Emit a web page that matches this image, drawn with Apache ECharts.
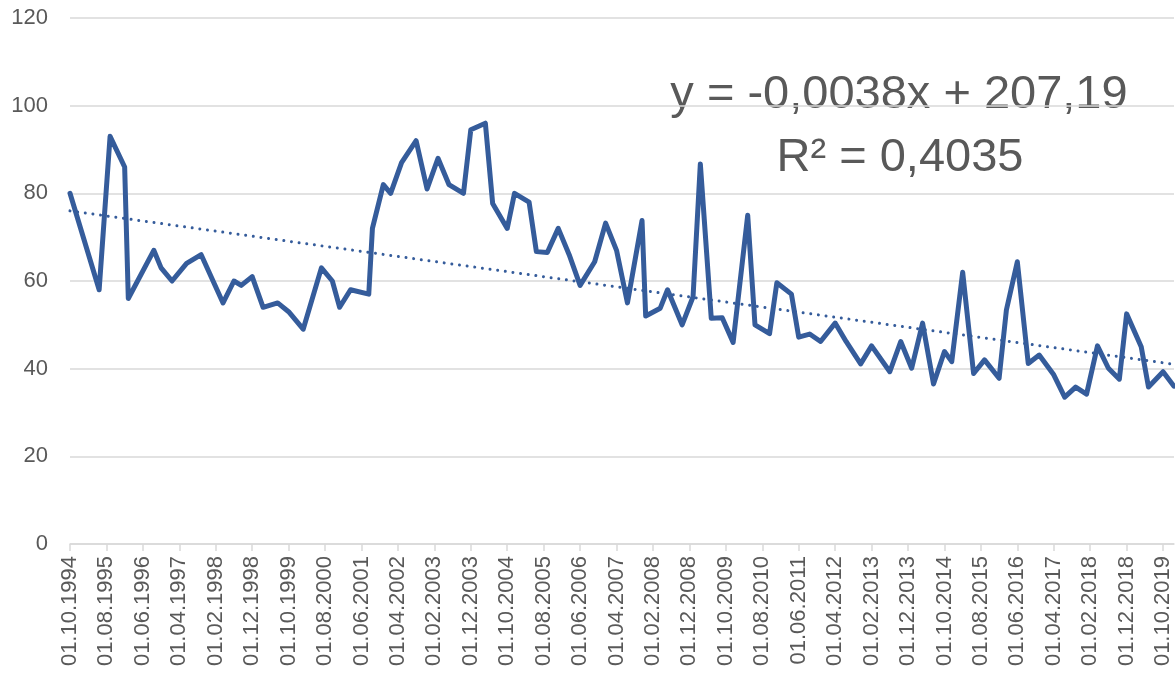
<!DOCTYPE html>
<html>
<head>
<meta charset="utf-8">
<script src="https://cdn.jsdelivr.net/npm/echarts@6/dist/echarts.min.js"></script>
<style>
html,body{margin:0;padding:0;background:#fff;}
#chart{width:1175px;height:673px;}
</style>
</head>
<body>
<div id="chart"></div>
<script>
// Months since 01.10.1994 for each observation
const monthIndex = [0,8,11,15,16,23,25,28,32,36,42,45,47,50,53,57,60,64,69,72,74,77,82,83,86,88,91,95,98,101,104,108,110,114,116,120,122,126,128,131,134,137,140,144,147,150,153,157,158,162,164,168,171,173,176,179,182,186,188,192,194,198,200,203,206,210,213,217,220,225,228,231,234,237,240,242,245,248,251,255,257,260,263,266,270,273,276,279,282,285,288,290,294,296,300,303];
const values = [80,58,93,86,56,67,63,60,64,66,55,60,59,61,54,55,53,49,63,60,54,58,57,72,82,80,87,92,81,88,82,80,94.5,96,77.7,72,80,78,66.7,66.5,72,66,59,64.4,73.2,67,55,73.8,52,53.8,58,50,56.4,86.7,51.5,51.6,46,75,50,48,59.6,57,47.2,47.9,46.2,50.4,46.2,41.1,45.2,39.3,46.2,40.1,50.4,36.5,43.9,41.6,62,38.9,42,37.8,53.4,64.4,41.2,43.1,38.6,33.5,35.8,34.2,45.2,40.1,37.6,52.5,45,35.8,39.3,36];
// Linear trend endpoints
const trendMonths = [0,303];
const trendValues = [76,41];
// X tick positions (months) and labels
const tickMonths = [0,10,20,30,40,50,60,70,80,90,100,110,120,130,140,150,160,170,180,190,200,210,220,230,240,250,260,270,280,290,300];
const yTicks = [0,20,40,60,80,100,120];
const equationLines = ['y = -0,0038x + 207,19','R² = 0,4035'];

function monthLabel(m){
  const total = 1994*12 + 9 + Math.round(m);
  const y = Math.floor(total/12);
  const mo = total%12 + 1;
  return '01.' + (mo<10?'0':'') + mo + '.' + y;
}

const chart = echarts.init(document.getElementById('chart'));
const font = 'Liberation Sans, Arial, sans-serif';
chart.setOption({
  animation:false,
  backgroundColor:'#ffffff',
  grid:{left:70,top:18,right:1,bottom:129,containLabel:false},
  xAxis:{
    type:'value', min:0, max:303,
    axisLine:{show:true,lineStyle:{color:'#D9D9D9',width:1.5}},
    axisTick:{show:true,length:7,lineStyle:{color:'#D9D9D9',width:1.5},customValues:tickMonths},
    splitLine:{show:false},
    axisLabel:{customValues:tickMonths,rotate:90,color:'#595959',fontFamily:font,fontSize:22,margin:12,
      formatter:function(v){return monthLabel(v);}}
  },
  yAxis:{
    type:'value', min:yTicks[0], max:yTicks[yTicks.length-1], interval:20,
    axisLine:{show:false}, axisTick:{show:false},
    splitLine:{lineStyle:{color:'#D9D9D9',width:1.5}},
    axisLabel:{color:'#595959',fontFamily:font,fontSize:22,margin:22}
  },
  series:[
    {type:'line',data:monthIndex.map((m,i)=>[m,values[i]]),showSymbol:false,symbol:'none',
      lineStyle:{color:'#355C9B',width:5,join:'round',cap:'round'},clip:false,z:3},
    {type:'line',data:trendMonths.map((m,i)=>[m,trendValues[i]]),showSymbol:false,symbol:'none',
      lineStyle:{color:'#355C9B',width:3,type:[0.01,7.7],cap:'round'},z:2}
  ],
  graphic:[
    {type:'text',style:{text:equationLines[0],x:899,y:95,textAlign:'center',textVerticalAlign:'middle',fontSize:47,fontFamily:font,fill:'#595959'}},
    {type:'text',style:{text:equationLines[1],x:900,y:158,textAlign:'center',textVerticalAlign:'middle',fontSize:47,fontFamily:font,fill:'#595959'}}
  ]
});
</script>
</body>
</html>
